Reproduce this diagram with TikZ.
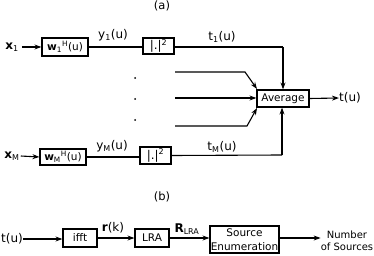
\documentclass[tikz,border=0pt]{standalone}
\usepackage{fontspec}
\setmainfont{DejaVu Sans}
\usetikzlibrary{arrows.meta}
\begin{document}
\begin{tikzpicture}[x=1pt,y=-1pt,
  blk/.style={draw,line width=1.2pt,inner sep=0pt,font=\fontsize{10.5}{10.5}\selectfont},
  lbl/.style={inner sep=0pt,font=\fontsize{12}{12}\selectfont},
  con/.style={line width=1.1pt},
  arr/.style={line width=1.1pt,-{Stealth[length=7pt,width=5pt]}},
  dotn/.style={circle,fill,inner sep=0pt,minimum size=2pt}]
\useasboundingbox (0,0) rectangle (374,256);
% (a)
\node[lbl,font=\fontsize{11.5}{11.5}\selectfont] (ta) at (162,6) {(a)};
\node[lbl] (x1) at (12,47) {\textbf{x}\textsubscript{1}};
\node[blk,minimum width=46pt,minimum height=18pt] (w1) at (65,47) {\textbf{w}\textsubscript{1}\textsuperscript{H}(u)};
\node[blk,minimum width=31pt,minimum height=16pt,font=\fontsize{12}{12}\selectfont] (s1) at (158.5,46) {|.|\textsuperscript{2}};
\node[lbl] (y1) at (113,35) {y\textsubscript{1}(u)};
\node[lbl] (t1) at (222,37) {t\textsubscript{1}(u)};
\node[blk,minimum width=52pt,minimum height=17pt] (avg) at (283,98.5) {Average};
\node[lbl] (tu) at (350,98) {t(u)};
\node[lbl] (xM) at (12,156) {\textbf{x}\textsubscript{M}};
\node[blk,minimum width=46pt,minimum height=16pt] (wM) at (63,157) {\textbf{w}\textsubscript{M}\textsuperscript{H}(u)};
\node[blk,minimum width=31pt,minimum height=17pt,font=\fontsize{12}{12}\selectfont] (sM) at (155.5,155.5) {|.|\textsuperscript{2}};
\node[lbl] (yM) at (112,146) {y\textsubscript{M}(u)};
\node[lbl] (tM) at (222,147) {t\textsubscript{M}(u)};
\node[dotn] (d1) at (135,78) {};
\node[dotn] (d2) at (135,99) {};
\node[dotn] (d3) at (135,120) {};
\coordinate (c1) at (283,47);
\coordinate (cM) at (282,155);
\coordinate (a1) at (175,72);
\coordinate (a1b) at (245,72);
\coordinate (a2) at (175,98);
\coordinate (a3) at (175,126);
\coordinate (a3b) at (247,126);
\coordinate (e1) at (257,89);
\coordinate (e3) at (257,108);
\draw[arr] (x1.east) ++(3,0) -- (w1.west);
\draw[arr] (xM.east) ++(1,0) -- (wM.west);
\draw[con] (w1.east) -- (s1.west |- w1.east);
\draw[con] (wM.east) -- (sM.west |- wM.east);
\draw[con] (s1.east |- c1) -- (c1);
\draw[arr] (c1) -- (avg.north -| c1);
\draw[con] (sM.east) -- (cM);
\draw[arr] (cM) -- (avg.south -| cM);
\draw[arr] (a1) -- (a1b) -- (e1);
\draw[arr] (a2) -- (avg.west |- a2);
\draw[arr] (a3) -- (a3b) -- (e3);
\draw[arr] (avg.east) -- (tu.west);
% (b)
\node[lbl,font=\fontsize{11.5}{11.5}\selectfont] (tb) at (162,197) {(b)};
\node[lbl] (tin) at (12,239) {t(u)};
\node[blk,minimum width=34pt,minimum height=18pt] (ifft) at (80,238) {ifft};
\node[blk,minimum width=34pt,minimum height=18pt] (lra) at (152,238) {LRA};
\node[blk,minimum width=69pt,minimum height=27pt,align=center,font=\fontsize{10.5}{13.5}\selectfont] (se) at (244.5,239.5) {Source\\Enumeration};
\node[lbl] (rk) at (113,228) {\textbf{r}(k)};
\node[lbl] (rl) at (187,229) {\textbf{R}\textsubscript{LRA}};
\node[lbl,align=center,font=\fontsize{10}{12.5}\selectfont] (ns) at (347,241) {Number\\of Sources};
\draw[arr] (tin.east) -- (ifft.west |- tin.east);
\draw[arr] (ifft.east) -- (lra.west);
\draw[arr] (lra.east) -- (se.west |- lra.east);
\draw[arr] (se.east |- lra.east) -- (ns.west |- lra.east);
\end{tikzpicture}
\end{document}
